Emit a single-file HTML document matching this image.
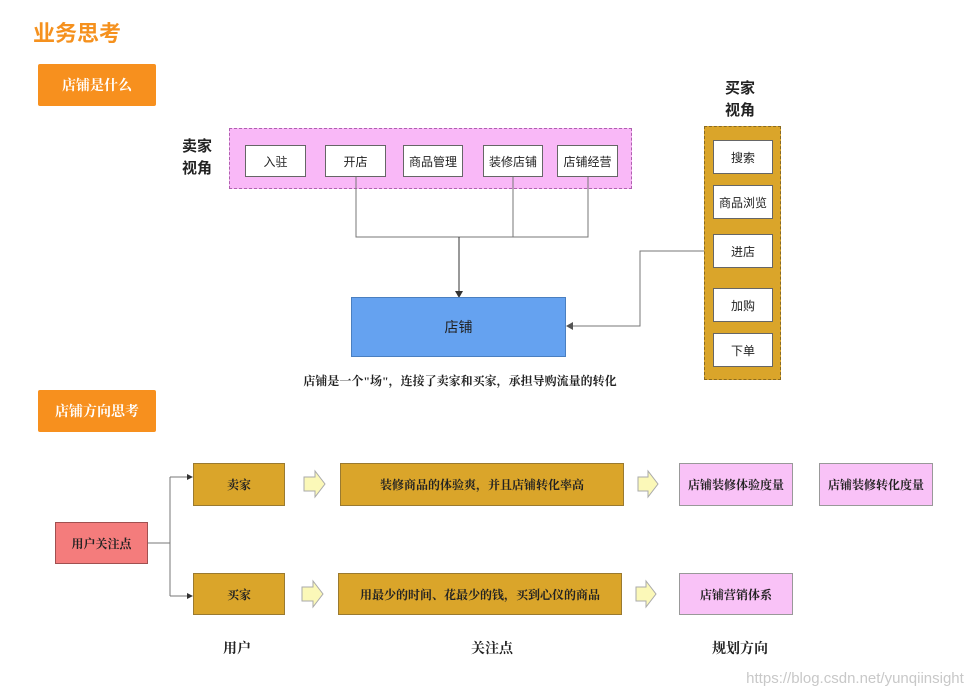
<!DOCTYPE html>
<html><head><meta charset="utf-8"><style>
*{margin:0;padding:0;box-sizing:border-box}
body{width:978px;height:697px;background:#fff;position:relative;overflow:hidden;font-family:"Liberation Sans","Noto Sans CJK SC",sans-serif}
.a{position:absolute;display:flex;align-items:center;justify-content:center;text-align:center}
.w{background:#fff;border:1px solid #666;font-size:12px;color:#222}
.ser{font-family:"Liberation Serif","Noto Serif CJK SC",serif;font-weight:bold}
.or{background:#f7901e;color:#fff;font-size:14px;border-radius:2px}
.gd{background:#daa52a;border:1px solid #9a7a30;font-size:12px;color:#222}
.pk{background:#f9c2f7;border:1px solid #999;font-size:12px;color:#222}
.lb{font-weight:bold;font-size:15px;color:#222;line-height:22px}
</style></head><body>
<div class="a" style="left:33px;top:16px;font-size:22px;font-weight:bold;color:#f5911e">业务思考</div>
<div class="a or ser" style="left:38px;top:64px;width:118px;height:42px">店铺是什么</div>
<div class="a lb" style="left:178px;top:136px;width:38px;flex-direction:column">卖家<br>视角</div>
<div class="a" style="left:229px;top:128px;width:403px;height:61px;background:#f9b8f7;border:1.5px dashed #b060b0"></div>
<div class="a w" style="left:245px;top:145px;width:61px;height:32px">入驻</div>
<div class="a w" style="left:325px;top:145px;width:61px;height:32px">开店</div>
<div class="a w" style="left:403px;top:145px;width:60px;height:32px">商品管理</div>
<div class="a w" style="left:483px;top:145px;width:60px;height:32px">装修店铺</div>
<div class="a w" style="left:557px;top:145px;width:61px;height:32px">店铺经营</div>
<svg style="position:absolute;left:0;top:0" width="978" height="697">
<g stroke="#777" fill="none" stroke-width="1">
<path d="M356 177V237H588V177M513 177V237"/>
<path d="M459 237V292" stroke="#333"/>
<path d="M713 251H640V326H572"/>
<path d="M148 543H170M170 477V596M170 477H188M170 596H188"/>
</g>
<polygon points="455,291 463,291 459,298" fill="#333"/>
<polygon points="573,322 573,330 566,326" fill="#555"/>
<polygon points="187,474 187,480 193,477" fill="#333"/>
<polygon points="187,593 187,599 193,596" fill="#333"/>
<g fill="#fbf8b8" stroke="#aaa">
<polygon points="304,477 315,477 315,471 325,484 315,497 315,491 304,491"/>
<polygon points="302,587 313,587 313,581 323,594 313,607 313,601 302,601"/>
<polygon points="638,477 648,477 648,471 658,484 648,497 648,491 638,491"/>
<polygon points="636,587 646,587 646,581 656,594 646,607 646,601 636,601"/>
</g>
</svg>
<div class="a" style="left:351px;top:297px;width:215px;height:60px;background:#65a2f0;border:1px solid #4a7fc0;font-size:14px;color:#222">店铺</div>
<div class="a ser" style="left:260px;top:372px;width:400px;font-size:12px;color:#222">店铺是一个"场"，连接了卖家和买家，承担导购流量的转化</div>
<div class="a lb" style="left:720px;top:78px;width:40px;flex-direction:column">买家<br>视角</div>
<div class="a" style="left:704px;top:126px;width:77px;height:254px;background:#daa52a;border:1.5px dashed #8a6a20"></div>
<div class="a w" style="left:713px;top:140px;width:60px;height:34px">搜索</div>
<div class="a w" style="left:713px;top:185px;width:60px;height:34px">商品浏览</div>
<div class="a w" style="left:713px;top:234px;width:60px;height:34px">进店</div>
<div class="a w" style="left:713px;top:288px;width:60px;height:34px">加购</div>
<div class="a w" style="left:713px;top:333px;width:60px;height:34px">下单</div>
<div class="a or ser" style="left:38px;top:390px;width:118px;height:42px">店铺方向思考</div>
<div class="a ser" style="left:55px;top:522px;width:93px;height:42px;background:#f47c7c;border:1px solid #a05050;font-size:12px;color:#222">用户关注点</div>
<div class="a gd ser" style="left:193px;top:463px;width:92px;height:43px">卖家</div>
<div class="a gd ser" style="left:193px;top:573px;width:92px;height:42px">买家</div>
<div class="a gd ser" style="left:340px;top:463px;width:284px;height:43px">装修商品的体验爽，并且店铺转化率高</div>
<div class="a gd ser" style="left:338px;top:573px;width:284px;height:42px">用最少的时间、花最少的钱，买到心仪的商品</div>
<div class="a pk ser" style="left:679px;top:463px;width:114px;height:43px">店铺装修体验度量</div>
<div class="a pk ser" style="left:819px;top:463px;width:114px;height:43px">店铺装修转化度量</div>
<div class="a pk ser" style="left:679px;top:573px;width:114px;height:42px">店铺营销体系</div>
<div class="a ser" style="left:207px;top:638px;width:60px;font-size:14px;color:#222">用户</div>
<div class="a ser" style="left:452px;top:638px;width:80px;font-size:14px;color:#222">关注点</div>
<div class="a ser" style="left:700px;top:638px;width:80px;font-size:14px;color:#222">规划方向</div>
<div class="a" style="left:735px;top:670px;width:240px;font-size:15px;color:#c8c8c8">https://blog.csdn.net/yunqiinsight</div>
</body></html>
